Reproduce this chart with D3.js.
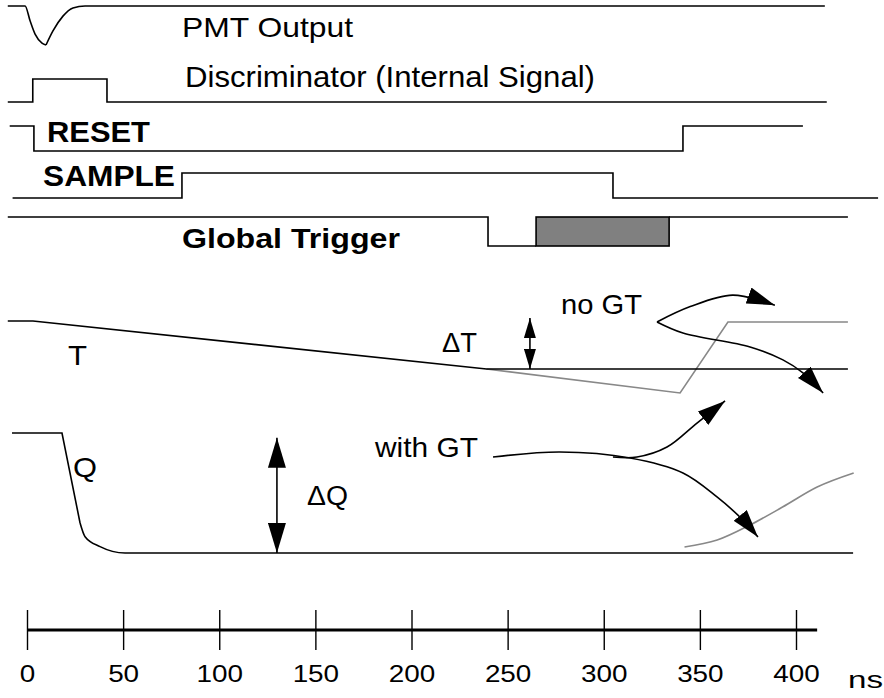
<!DOCTYPE html>
<html>
<head>
<meta charset="utf-8">
<script src="https://cdn.jsdelivr.net/npm/d3@7"></script>
<style>
  body { margin: 0; background: #fff; }
  text { font-family: "Liberation Sans", Arial, sans-serif; fill: #000; }
</style>
</head>
<body>
<div class="svg_container"></div>
<script>
// time axis (ns)
var tickValues = [0, 50, 100, 150, 200, 250, 300, 350, 400];
var axisEnd = 411;

// digital signals: [time ns, level 0/1]
var discLevels   = [[-10, 0], [3, 0], [3, 1], [41.6, 1], [41.6, 0], [416, 0]];
var resetLevels  = [[-9, 1], [3.6, 1], [3.6, 0], [341.2, 0], [341.2, 1], [403.6, 1]];
var sampleLevels = [[-7.5, 0], [80.6, 0], [80.6, 1], [304.8, 1], [304.8, 0], [442.7, 0]];
var gtLevels     = [[-10, 1], [239.8, 1], [239.8, 0], [264.8, 0]];
var gtAfter      = [[334, 1], [427, 1]];
var gtWindow     = [264.8, 334];

// PMT pulse (negative going)
var pmtFall = [[-10, 0], [-1, 0], [1.6, -0.38], [4.2, -0.72], [7.8, -0.95], [9.9, -1]];
var pmtRise = [[9.9, -1], [13.5, -0.64], [18.7, -0.26], [23.9, -0.05], [30.2, 0], [415, 0]];

// analog T and Q
var tLine     = [[-10, 1], [3.1, 1], [239, 0], [427, 0]];
var tNoGT     = [[239, 0], [339.7, -0.5], [364.6, 0.98], [427, 0.98]];
var qDrop     = [[-7.8, 1], [18.2, 1], [27.6, 0.25]];
var qTail     = [[27.6, 0.25], [30.2, 0.136], [38, 0.053], [51, 0], [429.7, 0]];
var qNoGT     = [[342, 0.05], [359, 0.108], [376, 0.233], [393, 0.383], [411, 0.55], [430, 0.667]];

// annotation arrows (row T / row Q levels)
var dT          = [[261.6, 1.06], [261.6, 0]];
var dQ          = [[130, 0.96], [130, 0]];
var noGTup      = [[327.7, 0.98], [345, 1.3], [367, 1.54], [389, 1.33]];
var noGTdown    = [[327.7, 0.98], [341.2, 0.75], [376.1, 0.46], [393.2, 0.19], [403.6, -0.08], [414.1, -0.5]];
var withGTdown  = [[242.4, 0.8], [277.2, 0.842], [313.7, 0.792], [341.2, 0.667], [358.9, 0.467], [372.4, 0.275], [380.2, 0.133]];
var withGTup    = [[304.8, 0.8], [317.3, 0.8], [332.9, 0.883], [348.5, 1.083], [363.1, 1.267]];

// layout of each row: y of level 0 and pixels per level
var rows = {
  pmt:    { base: 6,   amp: 39 },
  disc:   { base: 102, amp: 23 },
  reset:  { base: 151, amp: 25 },
  sample: { base: 198, amp: 25 },
  gt:     { base: 246, amp: 29 },
  t:      { base: 369, amp: 48 },
  q:      { base: 553, amp: 120 }
};

var labels = [
  { text: "PMT Output", x: 182, y: 37, size: 28, len: 171 },
  { text: "Discriminator (Internal Signal)", x: 185, y: 87, size: 29, len: 410 },
  { text: "RESET", x: 47, y: 142, size: 30, len: 103, bold: true },
  { text: "SAMPLE", x: 43, y: 186, size: 30, len: 132, bold: true },
  { text: "Global Trigger", x: 182, y: 248, size: 28, len: 218, bold: true },
  { text: "T", x: 68, y: 365, size: 28, len: 19 },
  { text: "\u0394T", x: 442, y: 352, size: 27, len: 35 },
  { text: "no GT", x: 561, y: 314, size: 28, len: 81 },
  { text: "with GT", x: 375, y: 457, size: 28, len: 103 },
  { text: "Q", x: 73, y: 477, size: 28, len: 24 },
  { text: "\u0394Q", x: 307, y: 505, size: 27, len: 41 },
  { text: "ns", x: 848, y: 688, size: 24, len: 35 }
];

var width = 884, height = 698;

var x = d3.scaleLinear().domain([0, 400]).range([27, 796]);

var svg = d3.select(".svg_container").append("svg")
  .attr("width", width)
  .attr("height", height);

// arrow heads
var defs = svg.append("defs");
function marker(id, len, w) {
  defs.append("marker")
    .attr("id", id)
    .attr("viewBox", "0 " + (-w / 2) + " " + len + " " + w)
    .attr("refX", len)
    .attr("refY", 0)
    .attr("markerWidth", len)
    .attr("markerHeight", w)
    .attr("markerUnits", "userSpaceOnUse")
    .attr("orient", "auto-start-reverse")
    .append("path")
    .attr("d", "M0," + (-w / 2) + "L" + len + ",0L0," + (w / 2) + "Z")
    .attr("fill", "#000");
}
marker("head-big", 30, 18);
marker("head-small", 20, 12);
marker("head-curve", 28, 17);

function yRow(name) {
  var r = rows[name];
  return d3.scaleLinear().domain([0, 1]).range([r.base, r.base - r.amp]);
}

function draw(data, rowName, curve, color, extra) {
  var y = yRow(rowName);
  var line = d3.line()
    .x(function(d) { return x(d[0]); })
    .y(function(d) { return y(d[1]); })
    .curve(curve || d3.curveLinear);
  var p = svg.append("path")
    .datum(data)
    .attr("d", line)
    .attr("fill", "none")
    .attr("stroke", color || "#000")
    .attr("stroke-width", 1.6)
    .attr("stroke-linejoin", "miter");
  if (extra) extra(p);
  return p;
}

// digital rows
draw(pmtFall, "pmt", d3.curveMonotoneX);
draw(pmtRise, "pmt", d3.curveMonotoneX);
draw(discLevels, "disc");
draw(resetLevels, "reset");
draw(sampleLevels, "sample");
draw(gtLevels, "gt");
draw(gtAfter, "gt");

var yGt = yRow("gt");
svg.append("rect")
  .attr("x", x(gtWindow[0]))
  .attr("y", yGt(1))
  .attr("width", x(gtWindow[1]) - x(gtWindow[0]))
  .attr("height", yGt(0) - yGt(1))
  .attr("fill", "#808080")
  .attr("stroke", "#000")
  .attr("stroke-width", 1.6);

// analog rows
draw(tNoGT, "t", d3.curveLinear, "#888");
draw(tLine, "t");
draw(qNoGT, "q", d3.curveMonotoneX, "#888");
draw(qDrop, "q");
draw(qTail, "q", d3.curveMonotoneX);

// annotation arrows
function both(id) {
  return function(p) { p.attr("marker-start", "url(#" + id + ")").attr("marker-end", "url(#" + id + ")"); };
}
function end(id) {
  return function(p) { p.attr("marker-end", "url(#" + id + ")"); };
}
draw(dT, "t", d3.curveLinear, "#000", both("head-small"));
draw(dQ, "q", d3.curveLinear, "#000", both("head-big"));
draw(noGTup, "t", d3.curveCatmullRom, "#000", end("head-curve"));
draw(noGTdown, "t", d3.curveCatmullRom, "#000", end("head-curve"));
draw(withGTdown, "q", d3.curveCatmullRom, "#000", end("head-curve"));
draw(withGTup, "q", d3.curveCatmullRom, "#000", end("head-curve"));

// labels
svg.selectAll(".lbl")
  .data(labels)
  .enter().append("text")
  .attr("class", "lbl")
  .attr("x", function(d) { return d.x; })
  .attr("y", function(d) { return d.y; })
  .attr("font-size", function(d) { return d.size; })
  .attr("font-weight", function(d) { return d.bold ? "bold" : "normal"; })
  .attr("textLength", function(d) { return d.len; })
  .attr("lengthAdjust", "spacingAndGlyphs")
  .text(function(d) { return d.text; });

// time axis
var axisY = 630;
var axis = svg.append("g")
  .attr("transform", "translate(0," + axisY + ")")
  .call(d3.axisBottom(x).tickValues(tickValues).tickSize(20).tickSizeOuter(0));

axis.select(".domain").remove();
axis.selectAll(".tick line")
  .attr("y1", -20)
  .attr("y2", 20)
  .attr("stroke", "#000")
  .attr("stroke-width", 1.4);
axis.selectAll(".tick text")
  .attr("y", 52)
  .attr("dy", 0)
  .attr("font-size", 24)
  .attr("font-family", "Liberation Sans, Arial, sans-serif")
  .attr("fill", "#000")
  .attr("textLength", function(d) { return String(d).length * 15.5; })
  .attr("lengthAdjust", "spacingAndGlyphs");

axis.append("line")
  .attr("x1", x(0))
  .attr("x2", x(axisEnd))
  .attr("y1", 0)
  .attr("y2", 0)
  .attr("stroke", "#000")
  .attr("stroke-width", 3);
</script>
</body>
</html>
